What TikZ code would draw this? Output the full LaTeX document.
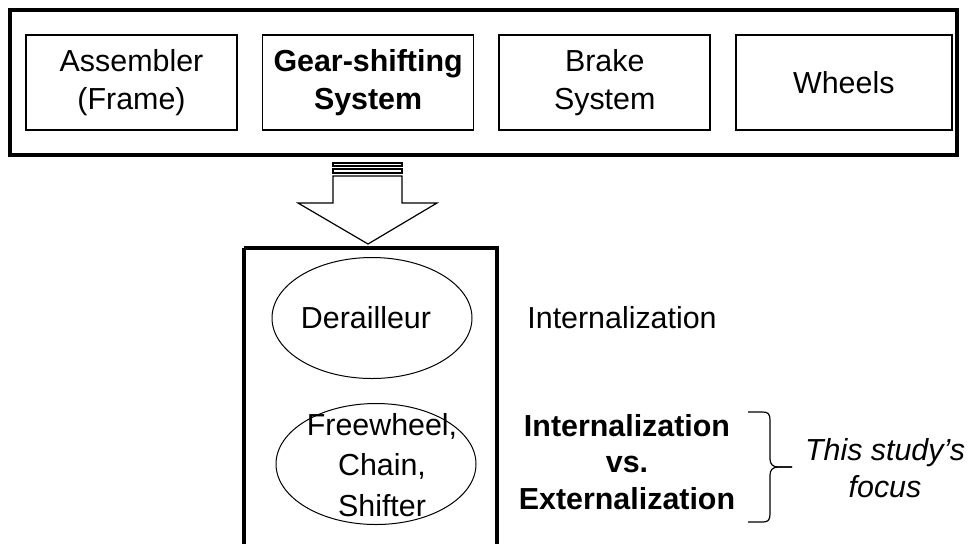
\documentclass[tikz,border=0pt]{standalone}
\usepackage{fontspec}
\setmainfont{Liberation Sans}
\usetikzlibrary{shapes.geometric, positioning}

\tikzset{
    part/.style={draw, line width=0.8pt, minimum width=105.5pt, minimum height=47.5pt,
        inner sep=0pt, align=center, font=\fontsize{15.2}{19}\selectfont},
    comp/.style={draw, ellipse, line width=0.5pt, minimum width=100pt, minimum height=60.5pt,
        inner sep=0pt},
    txt/.style={align=center, inner sep=0pt, font=\fontsize{15.2}{20.3}\selectfont},
    frame/.style={line width=1.6pt}
}

\begin{document}
\begin{tikzpicture}[x=0.5pt, y=-0.5pt, node distance=12pt]
    \useasboundingbox (0,0) rectangle (968,543);
    \clip (0,0) rectangle (968,543);

    %% bicycle parts
    \draw[frame] (10,10) rectangle (957,155);
    \node[part] (frm) at (131.5,82.5) {Assembler\\(Frame)};
    \node[part, right=of frm, font=\fontsize{15.2}{19}\selectfont\bfseries] (gear) {Gear-shifting\\System};
    \node[part, right=of gear] (brk) {Brake\\System};
    \node[part, right=of brk, minimum width=108pt] (whl) {Wheels};

    %% block arrow down to the gear-shifting parts
    \draw[line width=0.6pt] (333,163) rectangle (402,166);
    \draw[line width=0.6pt] (333,169) rectangle (402,173);
    \draw[line width=0.6pt, fill=white] (333,176) -- (333,203) -- (298,203) -- (368,244)
        -- (437,203) -- (402,203) -- (402,176) -- cycle;

    %% gear-shifting components
    \draw[frame] (244,248) -- (244,560);
    \draw[frame] (244,248) -- (497,248) -- (497,560);
    \node[comp] (der) at (372,318) {};
    \node[txt] (dertext) at (366,318) {Derailleur};
    \node[comp] (fwh) at (376,464) {};
    \node[txt] (fwhtext) at (382,465) {Freewheel,\\Chain,\\Shifter};

    %% sourcing decisions
    \node[txt, anchor=west] (intern) at (527,318) {Internalization};
    \node[txt, font=\fontsize{15.2}{18.3}\selectfont\bfseries] (choice) at (627,462)
        {Internalization\\vs.\\Externalization};

    % brace round the choice
    \coordinate (bt) at (748,412);
    \coordinate (bm) at (792,467);
    \coordinate (bb) at (748,522);
    \draw[line width=0.6pt] (bt) -- (763,412) .. controls (768,412) and (770,414) .. (770,420)
        -- (770,459) .. controls (770,464) and (773,467) .. (778,467) -- (bm);
    \draw[line width=0.6pt] (bm) -- (778,467) .. controls (773,467) and (770,470) .. (770,475)
        -- (770,514) .. controls (770,520) and (768,522) .. (763,522) -- (bb);
    \node[txt, font=\fontsize{15.2}{18.5}\selectfont\itshape] (focus) at (885,468)
        {This study’s\\focus};
\end{tikzpicture}
\end{document}
